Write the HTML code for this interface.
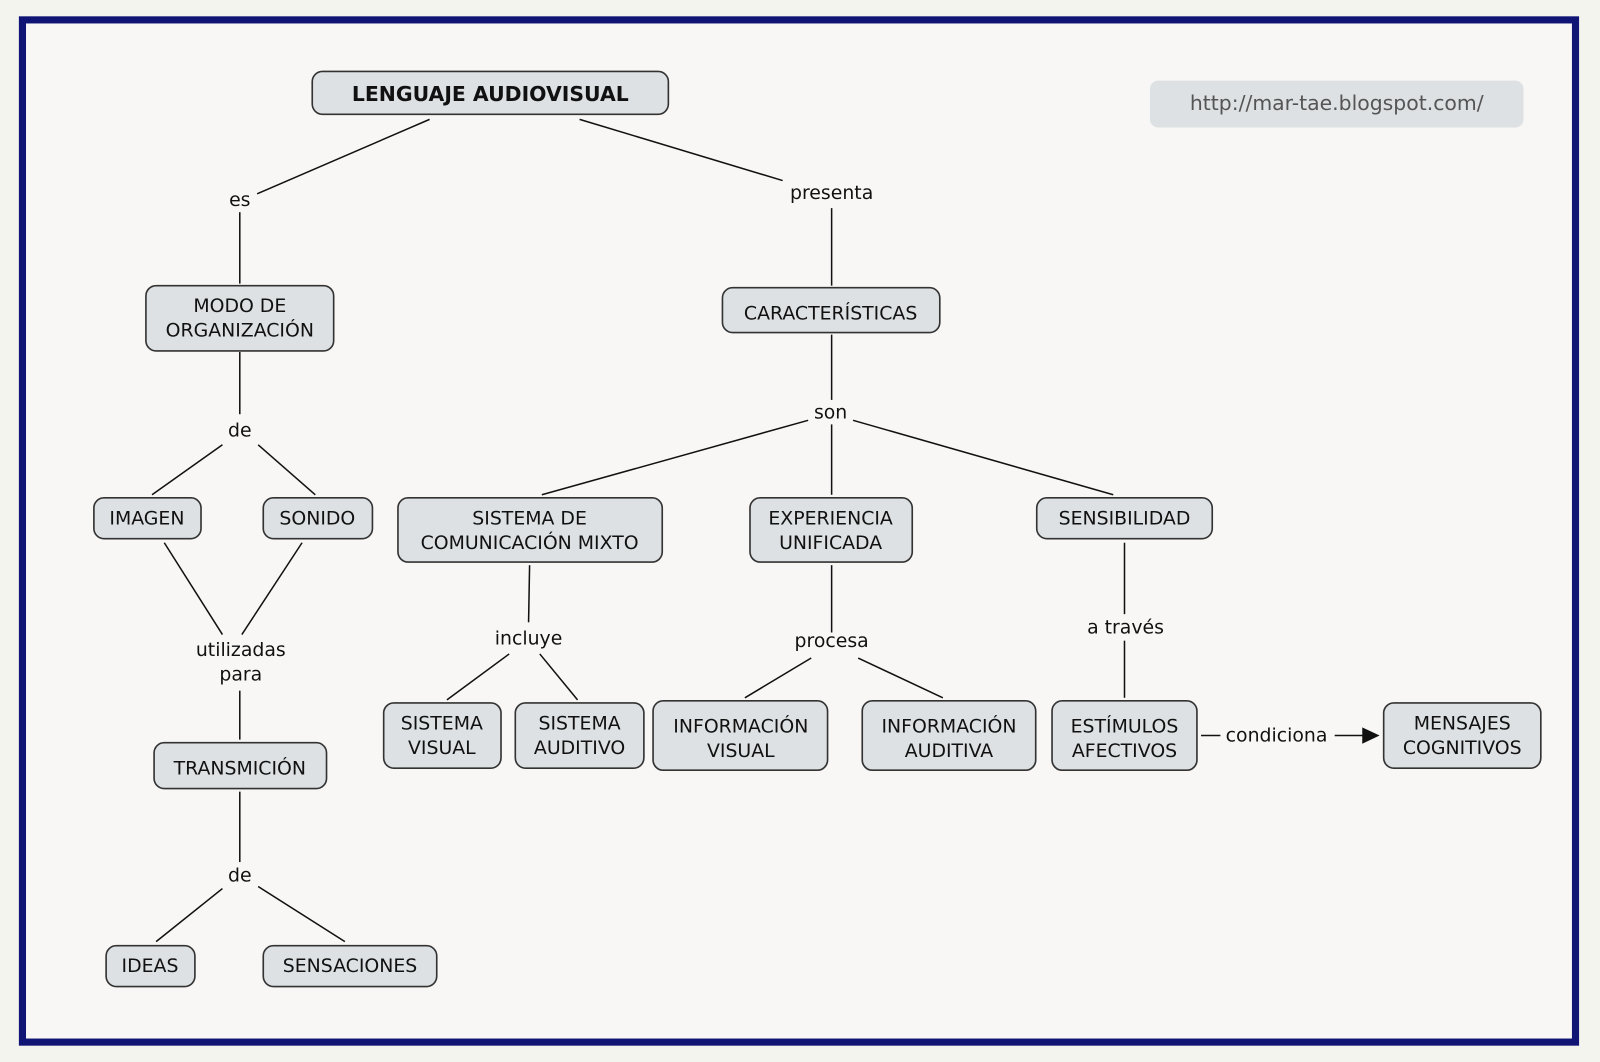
<!DOCTYPE html>
<html><head><meta charset="utf-8"><style>
html,body{margin:0;padding:0;background:#f5f5f0;}
svg{display:block;}
text{font-family:"DejaVu Sans","Liberation Sans",sans-serif;font-size:18.5px;fill:#111;}
.n{fill:#dde1e3;stroke:#333;stroke-width:1.6;}
.l{stroke:#111;stroke-width:1.5;fill:none;}
</style></head><body>
<svg width="1600" height="1062" viewBox="0 0 1568 1041" preserveAspectRatio="none" xmlns="http://www.w3.org/2000/svg">
<rect x="0" y="0" width="1568" height="1041" fill="#f4f4ef"/>
<rect x="22" y="19.5" width="1522" height="1002" fill="#f8f7f6" stroke="#0f1475" stroke-width="7"/>
<g class="l">
<line x1="421" y1="117" x2="252" y2="190"/>
<line x1="568" y1="117" x2="767" y2="177"/>
<line x1="235" y1="208" x2="235" y2="278"/>
<line x1="815" y1="204" x2="815" y2="280"/>
<line x1="235" y1="345" x2="235" y2="406"/>
<line x1="218" y1="436" x2="149" y2="485"/>
<line x1="253" y1="436" x2="309" y2="485"/>
<line x1="161" y1="532" x2="218" y2="622"/>
<line x1="296" y1="532" x2="237" y2="622"/>
<line x1="235" y1="677" x2="235" y2="725"/>
<line x1="235" y1="776" x2="235" y2="845"/>
<line x1="218" y1="871" x2="153" y2="923"/>
<line x1="253" y1="869" x2="338" y2="923"/>
<line x1="815" y1="328" x2="815" y2="392"/>
<line x1="792" y1="412" x2="531" y2="485"/>
<line x1="815" y1="416" x2="815" y2="485"/>
<line x1="836" y1="412" x2="1091" y2="485"/>
<line x1="519" y1="554" x2="518" y2="610"/>
<line x1="499" y1="641" x2="438" y2="686"/>
<line x1="529" y1="641" x2="566" y2="686"/>
<line x1="815" y1="554" x2="815" y2="620"/>
<line x1="795" y1="645" x2="730" y2="684"/>
<line x1="841" y1="645" x2="924" y2="684"/>
<line x1="1102" y1="532" x2="1102" y2="602"/>
<line x1="1102" y1="628" x2="1102" y2="684"/>
<line x1="1177" y1="721" x2="1196" y2="721"/>
<line x1="1308" y1="721" x2="1336" y2="721"/>
</g>
<polygon points="1335,713 1352,721 1335,729" fill="#111"/>
<rect class="n" x="306" y="70" width="349" height="42" rx="10"/>
<text x="480.5" y="99" text-anchor="middle" style="font-weight:bold;font-size:20px">LENGUAJE AUDIOVISUAL</text>
<rect x="1127" y="79" width="366" height="46" rx="8" fill="#dde1e3"/>
<text x="1310" y="108" text-anchor="middle" style="font-size:20px;fill:#555">http://mar-tae.blogspot.com/</text>
<g text-anchor="middle">
<text x="235" y="202">es</text>
<text x="815" y="195">presenta</text>
<text x="235" y="428">de</text>
<text x="814" y="410">son</text>
<text x="236" y="643">utilizadas</text>
<text x="236" y="667">para</text>
<text x="518" y="632">incluye</text>
<text x="815" y="634">procesa</text>
<text x="1103" y="621">a través</text>
<text x="1251" y="727">condiciona</text>
<text x="235" y="864">de</text>
</g>
<g>
<rect class="n" x="143" y="280" width="184" height="64" rx="10"/>
<rect class="n" x="708" y="282" width="213" height="44" rx="10"/>
<rect class="n" x="92" y="488" width="105" height="40" rx="10"/>
<rect class="n" x="258" y="488" width="107" height="40" rx="10"/>
<rect class="n" x="390" y="488" width="259" height="63" rx="10"/>
<rect class="n" x="735" y="488" width="159" height="63" rx="10"/>
<rect class="n" x="1016" y="488" width="172" height="40" rx="10"/>
<rect class="n" x="151" y="728" width="169" height="45" rx="10"/>
<rect class="n" x="376" y="689" width="115" height="64" rx="10"/>
<rect class="n" x="505" y="689" width="126" height="64" rx="10"/>
<rect class="n" x="640" y="687" width="171" height="68" rx="10"/>
<rect class="n" x="845" y="687" width="170" height="68" rx="10"/>
<rect class="n" x="1031" y="687" width="142" height="68" rx="10"/>
<rect class="n" x="1356" y="689" width="154" height="64" rx="10"/>
<rect class="n" x="104" y="927" width="87" height="40" rx="10"/>
<rect class="n" x="258" y="927" width="170" height="40" rx="10"/>
</g>
<g text-anchor="middle">
<text x="235" y="306">MODO DE</text><text x="235" y="330">ORGANIZACIÓN</text>
<text x="814" y="313">CARACTERÍSTICAS</text>
<text x="144" y="514">IMAGEN</text>
<text x="311" y="514">SONIDO</text>
<text x="519" y="514">SISTEMA DE</text><text x="519" y="538">COMUNICACIÓN MIXTO</text>
<text x="814" y="514">EXPERIENCIA</text><text x="814" y="538">UNIFICADA</text>
<text x="1102" y="514">SENSIBILIDAD</text>
<text x="235" y="759">TRANSMICIÓN</text>
<text x="433" y="715">SISTEMA</text><text x="433" y="739">VISUAL</text>
<text x="568" y="715">SISTEMA</text><text x="568" y="739">AUDITIVO</text>
<text x="726" y="718">INFORMACIÓN</text><text x="726" y="742">VISUAL</text>
<text x="930" y="718">INFORMACIÓN</text><text x="930" y="742">AUDITIVA</text>
<text x="1102" y="718">ESTÍMULOS</text><text x="1102" y="742">AFECTIVOS</text>
<text x="1433" y="715">MENSAJES</text><text x="1433" y="739">COGNITIVOS</text>
<text x="147" y="953">IDEAS</text>
<text x="343" y="953">SENSACIONES</text>
</g>
</svg>
</body></html>
